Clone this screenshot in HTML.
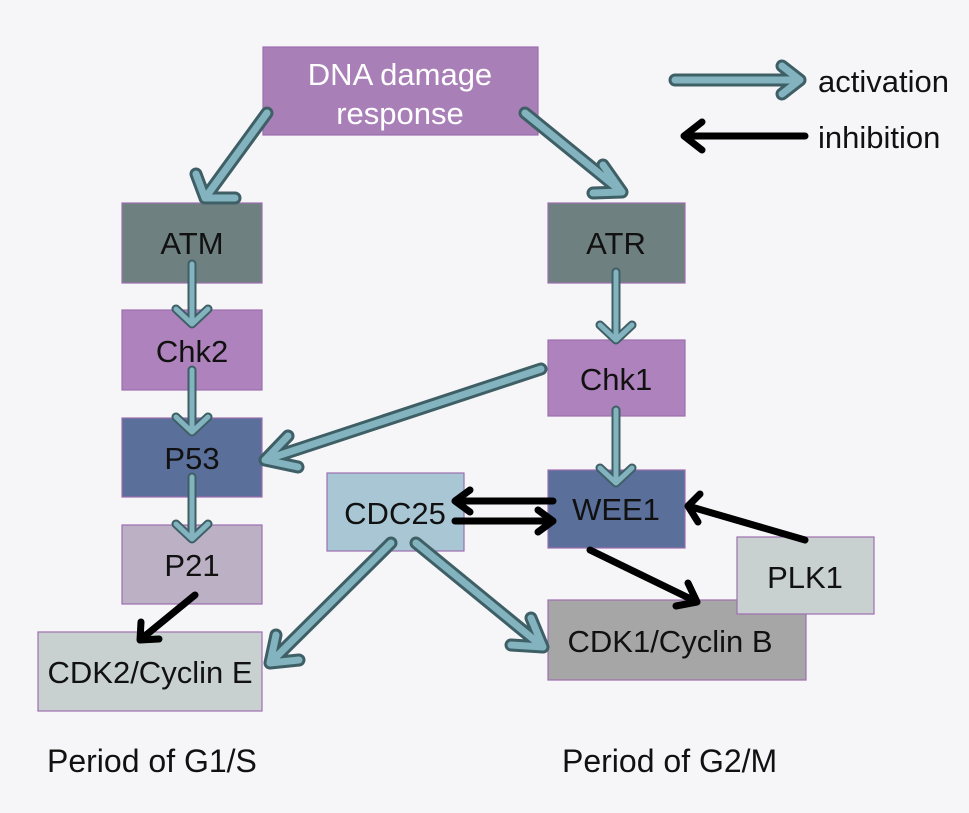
<!DOCTYPE html>
<html><head><style>
body{margin:0;background:#f6f6f8;}
svg{display:block;font-family:"Liberation Sans",sans-serif;}
</style></head><body>
<svg width="969" height="813" viewBox="0 0 969 813">
<rect width="969" height="813" fill="#f6f6f8"/>
<g stroke="#9c6fb0" stroke-width="1.2">
<rect x="263" y="47" width="275" height="88" fill="#a97fb8"/>
<rect x="122" y="203" width="140" height="80" fill="#6f8080"/>
<rect x="548" y="203" width="137" height="80" fill="#6f8080"/>
<rect x="122" y="310" width="140" height="80" fill="#ae82bc"/>
<rect x="548" y="340" width="137" height="76" fill="#ae82bc"/>
<rect x="122" y="418" width="140" height="79" fill="#5a6f99"/>
<rect x="548" y="470" width="137" height="78" fill="#5a6f99"/>
<rect x="327" y="473" width="137" height="78" fill="#a8c6d4"/>
<rect x="122" y="525" width="140" height="79" fill="#bcb0c4"/>
<rect x="38" y="632" width="224" height="79" fill="#c8d0d0"/>
<rect x="548" y="600" width="258" height="80" fill="#a6a6a6"/>
<rect x="737" y="537" width="137" height="77" fill="#c8d0d0"/>
</g>
<g fill="none" stroke-linecap="round" stroke-linejoin="round">
<g stroke="#3f5f66" stroke-width="13">
<path d="M267 113 L205 198 M196 174 L205 198 L235 198"/>
<path d="M525 113 L622 192 M603 165 L622 192 L593 193"/>
<path d="M541 369 L265 460 M288 436 L265 460 L298 467"/>
<path d="M391 543 L270 663 M276 635 L270 663 L299 660"/>
<path d="M416 543 L543 647 M531 618 L543 647 L511 645"/>
<path d="M675 80 L800 80 M782 66 L800 80 L782 94"/>
</g>
<g stroke="#3f5f66" stroke-width="9">
<path d="M192 264 L192 324 M176 309 L192 324 L208 309"/>
<path d="M616 272 L616 340 M600 325 L616 340 L632 325"/>
<path d="M192 370 L192 432 M176 417 L192 432 L208 417"/>
<path d="M616 410 L616 483 M600 468 L616 483 L632 468"/>
<path d="M192 477 L192 539 M176 524 L192 539 L208 524"/>
</g>
<g stroke="#82b3be" stroke-width="7">
<path d="M267 113 L205 198 M196 174 L205 198 L235 198"/>
<path d="M525 113 L622 192 M603 165 L622 192 L593 193"/>
<path d="M541 369 L265 460 M288 436 L265 460 L298 467"/>
<path d="M391 543 L270 663 M276 635 L270 663 L299 660"/>
<path d="M416 543 L543 647 M531 618 L543 647 L511 645"/>
<path d="M675 80 L800 80 M782 66 L800 80 L782 94"/>
</g>
<g stroke="#82b3be" stroke-width="5">
<path d="M192 264 L192 324 M176 309 L192 324 L208 309"/>
<path d="M616 272 L616 340 M600 325 L616 340 L632 325"/>
<path d="M192 370 L192 432 M176 417 L192 432 L208 417"/>
<path d="M616 410 L616 483 M600 468 L616 483 L632 468"/>
<path d="M192 477 L192 539 M176 524 L192 539 L208 524"/>
</g>
<g stroke="#000" stroke-width="7">
<path d="M805 136 L684 136 M702 122 L684 136 L702 150"/>
<path d="M553 501 L455 501 M470 490 L455 501 L470 512"/>
<path d="M455 521 L553 521 M538 510 L553 521 L538 532"/>
<path d="M805 540 L688 506 M700 494 L688 506 L698 522"/>
<path d="M590 550 L697 602 M688 583 L697 602 L676 606"/>
<path d="M195 595 L140 640 M141 622 L140 640 L159 639"/>
</g>
</g>
<g font-size="31" text-anchor="middle" fill="#111">
<text x="400" y="85" fill="#fff">DNA damage</text>
<text x="400" y="124" fill="#fff">response</text>
<text x="192" y="254">ATM</text>
<text x="616" y="254">ATR</text>
<text x="192" y="362">Chk2</text>
<text x="616" y="390">Chk1</text>
<text x="192" y="469">P53</text>
<text x="616" y="520">WEE1</text>
<text x="395" y="524">CDC25</text>
<text x="192" y="576">P21</text>
<text x="150" y="683">CDK2/Cyclin E</text>
<text x="670" y="652">CDK1/Cyclin B</text>
<text x="805" y="588">PLK1</text>
</g>
<g font-size="31" fill="#111">
<text x="818" y="92">activation</text>
<text x="818" y="148">inhibition</text>
<text x="47" y="772" font-size="32">Period of G1/S</text>
<text x="562" y="772" font-size="32">Period of G2/M</text>
</g>
</svg>
</body></html>
